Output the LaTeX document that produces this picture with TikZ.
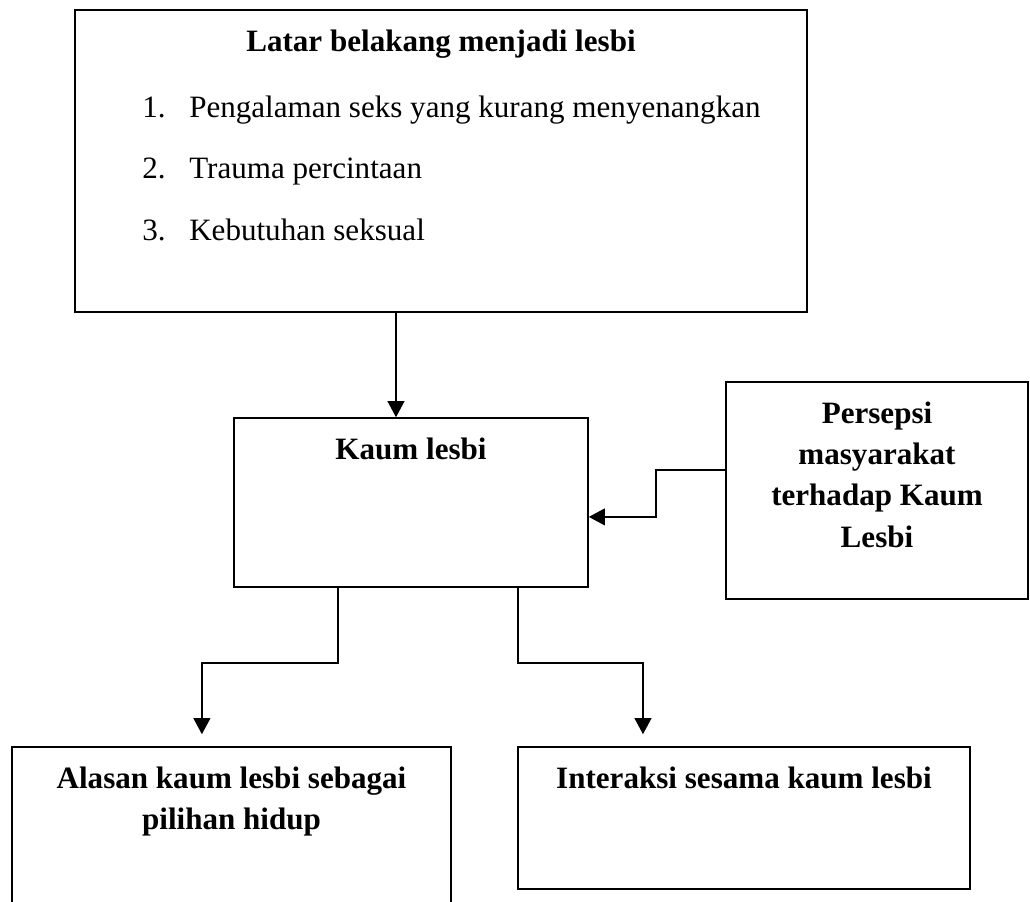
\documentclass[tikz,border=0pt]{standalone}
\usepackage{fontspec}
\setmainfont{Liberation Serif}
\usetikzlibrary{arrows.meta,positioning}

\begin{document}
\begin{tikzpicture}[
  x=0.025cm,y=-0.025cm,
  kotak/.style={draw,line width=1.1pt,inner sep=0pt},
  judul/.style={anchor=north,yshift=-0.52cm,inner sep=0pt,align=center,
                font=\fontsize{22.1pt}{29.2pt}\selectfont\bfseries},
  isi/.style={anchor=base west,inner sep=0pt,font=\fontsize{22.1pt}{27pt}\selectfont},
  panah/.style={-{Triangle[length=0.4cm,width=0.42cm]},line width=1pt}
]
  \useasboundingbox (0,0) rectangle (1030,901);
  % kotak-kotak
  \node[kotak,minimum width=18.3cm,minimum height=7.55cm,
        label={[judul]north:Latar belakang menjadi lesbi}] (latar) at (441,161) {};
  \node[isi] (item1) at (142,117) {\makebox[1.175cm][l]{1.}Pengalaman seks yang kurang menyenangkan};
  \node[isi] (item2) at (142,178) {\makebox[1.175cm][l]{2.}Trauma percintaan};
  \node[isi] (item3) at (142,240) {\makebox[1.175cm][l]{3.}Kebutuhan seksual};
  \node[kotak,minimum width=8.85cm,minimum height=4.225cm,
        label={[judul]north:Kaum lesbi}] (kaum) at (411,502.5) {};
  \node[kotak,minimum width=7.55cm,minimum height=5.425cm,
        label={[judul]north:{Persepsi\\masyarakat\\terhadap Kaum\\Lesbi}}] (persepsi) at (877,490.5) {};
  \node[kotak,minimum width=10.975cm,minimum height=4.45cm,
        label={[judul]north:{Alasan kaum lesbi sebagai\\pilihan hidup}}] (alasan) at (231.5,836) {};
  \node[kotak,minimum width=11.3cm,minimum height=3.55cm,
        label={[judul]north:Interaksi sesama kaum lesbi}] (interaksi) at (744,818) {};
  % panah
  \draw[panah] ([xshift=-1.125cm]latar.south) -- ([xshift=-1.125cm]latar.south |- kaum.north);
  \draw[panah] ([yshift=0.51cm]persepsi.west) -- ++(-1.725cm,0) |- ([yshift=-0.36cm]kaum.east);
  \draw[panah,shorten >=0.3cm] ([xshift=-1.825cm]kaum.south) -- ++(0,-1.875cm)
    -| ([xshift=-0.74cm]alasan.north);
  \draw[panah,shorten >=0.3cm] ([xshift=2.675cm]kaum.south) -- ++(0,-1.875cm)
    -| ([xshift=-2.525cm]interaksi.north);
\end{tikzpicture}
\end{document}
